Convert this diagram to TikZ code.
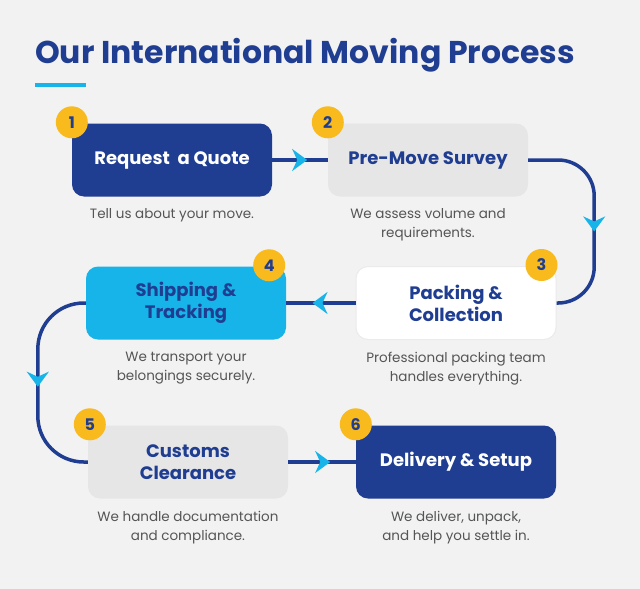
\documentclass[tikz,border=0pt]{standalone}
\usepackage{fontspec}
\setmainfont{Poppins}
\usetikzlibrary{positioning,arrows.meta,decorations.markings}

\definecolor{deep blue}{RGB}{31,61,145}
\definecolor{sky blue}{RGB}{23,180,234}
\definecolor{badge yellow}{RGB}{248,186,28}
\definecolor{page gray}{RGB}{242,242,242}
\definecolor{box gray}{RGB}{230,230,230}
\definecolor{note gray}{RGB}{85,85,85}

\tikzset{
  stage/.style={rounded corners=12pt, minimum width=200pt, minimum height=73pt,
    inner sep=0pt, align=center, font=\bfseries\fontsize{18}{22}\selectfont},
  dark stage/.style={stage, fill=deep blue, text=white},
  pale stage/.style={stage, fill=box gray, text=deep blue},
  tip at/.style={postaction={decorate}, decoration={markings,
    mark=at position #1 with {\arrow{Stealth[length=15pt,width=22pt,inset=5pt,color=sky blue]}}}}
  }
\tikzstyle{badge}=[circle, fill=badge yellow, text=deep blue, minimum size=32pt, inner sep=0pt,
  font=\bfseries\fontsize{16}{16}\selectfont]
\tikzstyle{note}=[text=note gray, align=center, inner sep=0pt, font=\fontsize{13.5}{19}\selectfont]
\tikzstyle{flow}=[draw=deep blue, line width=3.5pt]

\begin{document}
\begin{tikzpicture}[x=1pt, y=-1pt]

    % Page and heading
    \fill[page gray] (0,0) rectangle (640,589);
    \useasboundingbox (0,0) rectangle (640,589);
    \node[anchor=base west, inner sep=0pt, text=deep blue,
      font=\bfseries\fontsize{31.5}{34}\selectfont] (title) at (35,63) {Our International Moving Process};
    \draw[sky blue, line width=3.5pt] (35,85) -- (86,85);

    % The six stages
    \node[dark stage] (b1) at (172,160) {Request~ a Quote};
    \node[pale stage] (b2) at (428,160) {Pre-Move Survey};
    \node[stage, fill=white, draw=black!8, line width=1pt, text=deep blue] (b3) at (456,303) {Packing \&\\Collection};
    \node[stage, fill=sky blue, text=deep blue] (b4) at (186,303) {Shipping \&\\Tracking};
    \node[pale stage] (b5) at (188,462) {Customs\\Clearance};
    \node[dark stage] (b6) at (456,462) {Delivery \& Setup};

    % Notes under the stages
    \node[note, below=12pt of b1] (d1) {Tell us about your move.};
    \node[note, below=12pt of b2] (d2) {We assess volume and\\requirements.};
    \node[note, below=12pt of b3] (d3) {Professional packing team\\handles everything.};
    \node[note, below=12pt of b4] (d4) {We transport your\\belongings securely.};
    \node[note, below=12pt of b5] (d5) {We handle documentation\\and compliance.};
    \node[note, below=12pt of b6] (d6) {We deliver, unpack,\\and help you settle in.};

    % Connectors
    \draw[flow, tip at=35pt] (b1) -- (b2);
    \draw[flow, rounded corners=36pt, tip at=122pt] (b2.east) -- ++(66,0) |- (b3.east);
    \draw[flow, tip at=43pt] (b3) -- (b4);
    \draw[flow, rounded corners=46pt, tip at=112pt] (b4.west) -- ++(-48,0) |- (b5.west);
    \draw[flow, tip at=42pt] (b5) -- (b6);

    % Numbered badges
    \foreach \num/\pos/\dx in {1/b1.north west/0, 2/b2.north west/0, 3/b3.north east/-15,
      4/b4.north east/-17, 5/b5.north west/2, 6/b6.north west/0} {
      \node[badge, xshift=\dx pt, yshift=1pt] (n\num) at (\pos) {\num};
    }
\end{tikzpicture}
\end{document}
